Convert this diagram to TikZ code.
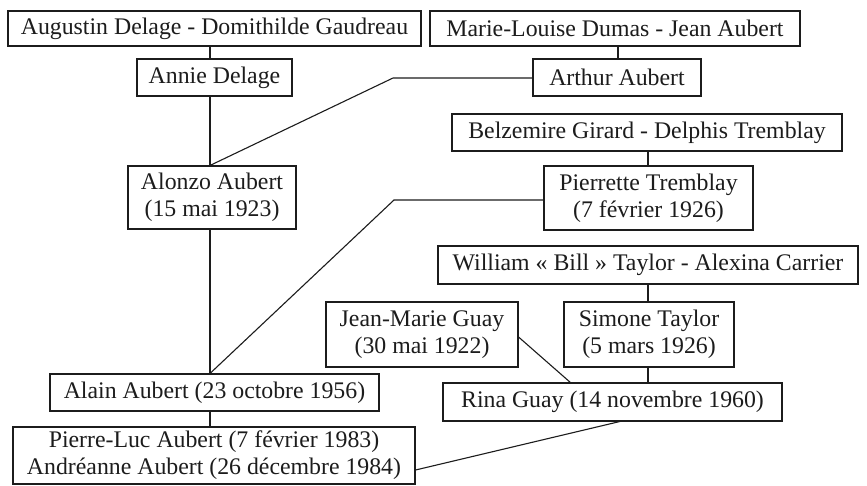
\documentclass[tikz,border=0pt]{standalone}
\usepackage{fontspec}
\setmainfont{Liberation Serif}
\definecolor{ink}{HTML}{1C1C1C}
\begin{document}
\begin{tikzpicture}[x=1pt,y=-1pt,
  pbox/.style={draw=ink,line width=1.1pt,inner sep=0pt,align=center,text=ink,
    font=\fontsize{23.8pt}{27pt}\selectfont},
  link/.style={draw=ink,line width=1.1pt}]
\useasboundingbox (0,0) rectangle (867,485);
\fill[white] (0,0) rectangle (867,485);
\node[pbox,minimum width=413pt,minimum height=35pt] (aug) at (214.5,28.5) {Augustin Delage - Domithilde Gaudreau};
\node[pbox,minimum width=370pt,minimum height=35pt] (marie) at (615,28.5) {Marie-Louise Dumas - Jean Aubert};
\node[pbox,minimum width=155pt,minimum height=37pt] (annie) at (214.5,77.5) {Annie Delage};
\node[pbox,minimum width=168pt,minimum height=37pt] (arthur) at (617,77.5) {Arthur Aubert};
\node[pbox,minimum width=390pt,minimum height=37pt] (belz) at (647,132.5) {Belzemire Girard - Delphis Tremblay};
\node[pbox,minimum width=168pt,minimum height=63pt] (alonzo) at (212,197.5) {Alonzo Aubert\\(15 mai 1923)};
\node[pbox,minimum width=209pt,minimum height=64pt] (pierrette) at (648.5,198) {Pierrette Tremblay\\(7 février 1926)};
\node[pbox,minimum width=420pt,minimum height=38pt] (william) at (648,265) {William «~Bill~» Taylor - Alexina Carrier};
\node[pbox,minimum width=192pt,minimum height=65pt] (jm) at (422,334.5) {Jean-Marie Guay\\(30 mai 1922)};
\node[pbox,minimum width=170pt,minimum height=65pt] (simone) at (649,334.5) {Simone Taylor\\(5 mars 1926)};
\node[pbox,minimum width=329pt,minimum height=37pt] (alain) at (214.5,392.5) {Alain Aubert (23 octobre 1956)};
\node[pbox,minimum width=339pt,minimum height=38pt] (rina) at (612.5,402) {Rina Guay (14 novembre 1960)};
\node[pbox,minimum width=402pt,minimum height=57pt] (pl) at (214,455.5) {Pierre-Luc Aubert (7 février 1983)\\Andréanne Aubert (26 décembre 1984)};
\coordinate (trunk) at (210,0);
\coordinate (mcol) at (618,0);
\coordinate (bcol) at (648,0);
\coordinate (kA) at (393,78);
\coordinate (kP) at (394,200);
\coordinate (jmE) at (518,337);
\coordinate (rinaT) at (571,383);
\coordinate (rinaB) at (622,421);
\coordinate (plE) at (415,470);
\draw[link] (aug.south -| trunk) -- (annie.north -| trunk);
\draw[link] (annie.south -| trunk) -- (alonzo.north -| trunk);
\draw[link] (alonzo.south -| trunk) -- (alain.north -| trunk);
\draw[link] (alain.south -| trunk) -- (pl.north -| trunk);
\draw[link] (marie.south -| mcol) -- (arthur.north -| mcol);
\draw[link] (belz.south -| bcol) -- (pierrette.north -| bcol);
\draw[link] (william.south -| bcol) -- (simone.north -| bcol);
\draw[link] (simone.south -| bcol) -- (rina.north -| bcol);
\draw[link] (arthur.west |- kA) -- (kA) -- (alonzo.north -| trunk);
\draw[link] (pierrette.west |- kP) -- (kP) -- (alain.north -| trunk);
\draw[link] (jm.east |- jmE) -- (rinaT);
\draw[link] (rinaB) -- (pl.east |- plE);
\end{tikzpicture}
\end{document}
